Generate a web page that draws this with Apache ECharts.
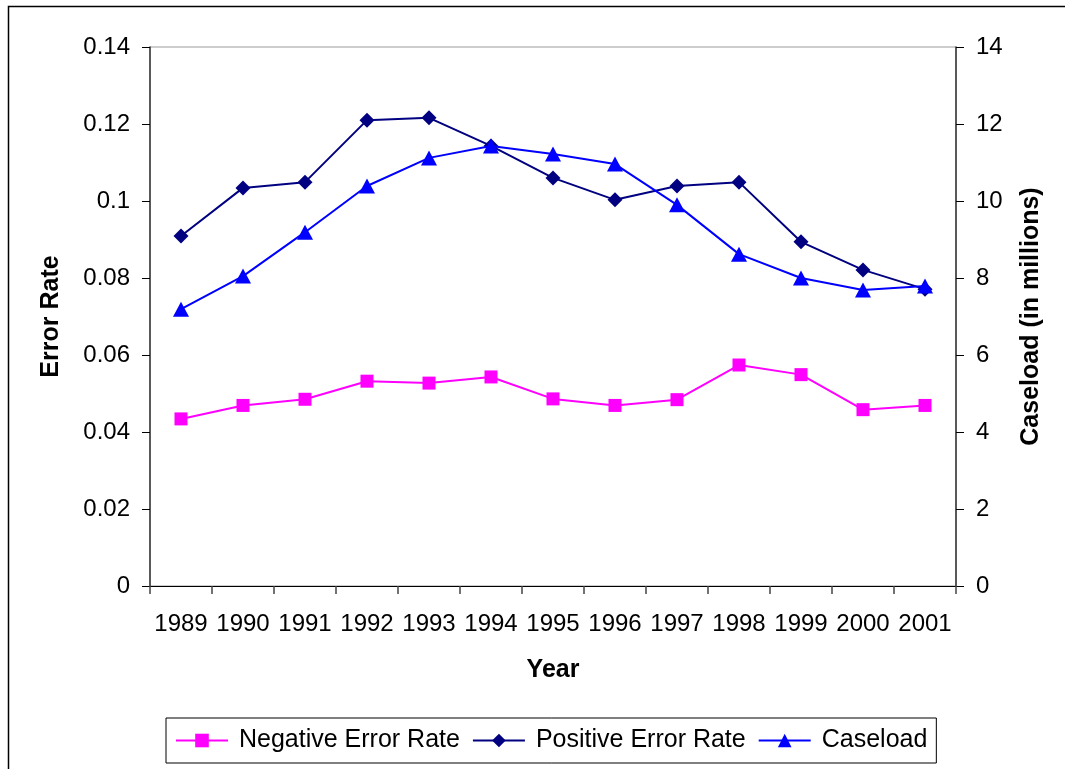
<!DOCTYPE html>
<html>
<head>
<meta charset="utf-8">
<script src="https://cdn.jsdelivr.net/npm/echarts@6/dist/echarts.min.js"></script>
<style>
html,body{margin:0;padding:0;background:#fff;}
#chart{width:1065px;height:769px;}
</style>
</head>
<body>
<div id="chart"></div>
<script>
const years = ['1989','1990','1991','1992','1993','1994','1995','1996','1997','1998','1999','2000','2001'];
const negativeErrorRate = [0.0434,0.0469,0.0485,0.0532,0.0527,0.0543,0.0486,0.0469,0.0484,0.0574,0.0549,0.0458,0.0469];
const positiveErrorRate = [0.0909,0.1034,0.1049,0.1210,0.1216,0.1143,0.1060,0.1003,0.1039,0.1049,0.0894,0.0821,0.0771];
const caseload = [7.19,8.05,9.19,10.39,11.12,11.43,11.22,10.96,9.90,8.62,8.00,7.69,7.79];

const FONT = "'Liberation Sans', Arial, sans-serif";
const chart = echarts.init(document.getElementById('chart'), null, {renderer:'canvas'});
chart.setOption({
  animation: false,
  backgroundColor: '#fff',
  textStyle: {fontFamily: FONT},
  graphic: [{
    type: 'rect', z: -1, silent: true,
    shape: {x: 8.5, y: 6.5, width: 1200, height: 900},
    style: {fill: 'none', stroke: '#000', lineWidth: 1.5}
  }],
  grid: {left: 150, right: 109, top: 47, bottom: 183, show: true, borderColor: '#999', borderWidth: 1, backgroundColor: 'transparent'},
  legend: {
    left: 166, top: 718,
    padding: [10, 9, 10, 9],
    borderColor: '#000', borderWidth: 1,
    itemWidth: 52, itemHeight: 17, itemGap: 12,
    textStyle: {fontFamily: FONT, fontSize: 25, color: '#000', padding: [0, 0, 0, 6]},
    data: ['Negative Error Rate', 'Positive Error Rate', 'Caseload']
  },
  xAxis: {
    type: 'category', data: years, boundaryGap: true,
    name: 'Year', nameLocation: 'middle', nameGap: 72,
    nameTextStyle: {fontFamily: FONT, fontSize: 25, fontWeight: 'bold', color: '#000'},
    axisLine: {lineStyle: {color: '#000', width: 1}},
    axisTick: {show: true, inside: false, length: 8, alignWithLabel: false, lineStyle: {color: '#444', width: 1.5}},
    axisLabel: {fontFamily: FONT, fontSize: 24, color: '#000', margin: 26, interval: 0},
    splitLine: {show: false}
  },
  yAxis: [{
    type: 'value', min: 0, max: 0.14, interval: 0.02, position: 'left',
    name: 'Error Rate', nameLocation: 'middle', nameGap: 86, nameRotate: 90,
    nameTextStyle: {fontFamily: FONT, fontSize: 25, fontWeight: 'bold', color: '#000'},
    axisLine: {show: true, lineStyle: {color: '#333', width: 1.5}},
    axisTick: {show: true, inside: false, length: 8, lineStyle: {color: '#000', width: 1}},
    axisLabel: {fontFamily: FONT, fontSize: 24, color: '#000', margin: 20},
    splitLine: {show: false}
  }, {
    type: 'value', min: 0, max: 14, interval: 2, position: 'right',
    name: 'Caseload (in millions)', nameLocation: 'middle', nameGap: 63, nameRotate: 90,
    nameTextStyle: {fontFamily: FONT, fontSize: 25, fontWeight: 'bold', color: '#000'},
    axisLine: {show: true, lineStyle: {color: '#333', width: 1.5}},
    axisTick: {show: true, inside: false, length: 8, lineStyle: {color: '#000', width: 1}},
    axisLabel: {fontFamily: FONT, fontSize: 24, color: '#000', margin: 20},
    splitLine: {show: false}
  }],
  series: [{
    name: 'Negative Error Rate', type: 'line', yAxisIndex: 0, data: negativeErrorRate,
    symbol: 'rect', symbolSize: 13,
    lineStyle: {color: '#FF00FF', width: 2}, itemStyle: {color: '#FF00FF'}, z: 2
  }, {
    name: 'Positive Error Rate', type: 'line', yAxisIndex: 0, data: positiveErrorRate,
    symbol: 'diamond', symbolSize: [15, 15],
    lineStyle: {color: '#000080', width: 2}, itemStyle: {color: '#000080'}, z: 3
  }, {
    name: 'Caseload', type: 'line', yAxisIndex: 1, data: caseload,
    symbol: 'triangle', symbolSize: [16, 15],
    lineStyle: {color: '#0000FF', width: 2}, itemStyle: {color: '#0000FF'}, z: 4
  }]
});
</script>
</body>
</html>
